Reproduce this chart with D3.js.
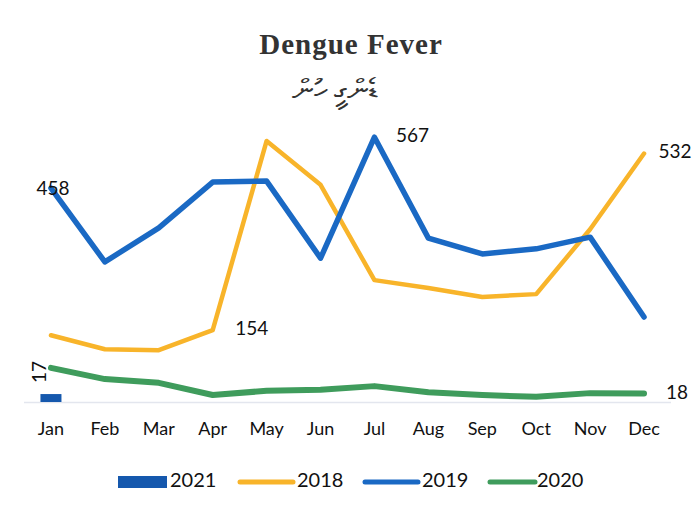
<!DOCTYPE html>
<html><head><meta charset="utf-8">
<script src="https://cdn.jsdelivr.net/npm/d3@7"></script>
<style>
html,body{margin:0;padding:0;background:#fff;}
text{font-family:Lato,"Open Sans",sans-serif;}
</style></head>
<body>
<svg id="c" width="700" height="517"></svg>
<script>
const months = ["Jan","Feb","Mar","Apr","May","Jun","Jul","Aug","Sep","Oct","Nov","Dec"];
const values2021 = [17];
const values2018 = [143,113,111,154,559,465,261,244,225,231,370,532];
const values2019 = [458,300,373,471,473,308,567,351,317,328,353,182];
const values2020 = [73,49,41,15,24,26,34,21,15,11,19,18];
const legendLabels = ["2021","2018","2019","2020"];
const titleText = "Dengue Fever";
const subtitleText = "ޑެންގީ ހުން";

const colors = {"2021":"#1558ad","2018":"#f8b42a","2019":"#1a69c4","2020":"#3f9c5c"};

const svg = d3.select("#c");
const x = d3.scaleBand().domain(months).range([24,671]);
const y = d3.scaleLinear().domain([0,600]).range([402,402-600*0.467]);
const cx = m => x(m) + x.bandwidth()/2;

svg.append("text").attr("x",351).attr("y",54).attr("text-anchor","middle")
  .style("font-family","'Liberation Serif',serif").style("font-weight","bold")
  .style("font-size","29px").style("letter-spacing","1px").attr("fill","#333").text(titleText);
svg.append("text").attr("x",335).attr("y",100).attr("text-anchor","middle")
  .style("font-size","30px").attr("fill","#333").text(subtitleText);

// baseline
svg.append("line").attr("x1",24).attr("x2",671).attr("y1",y(0)+0.5).attr("y2",y(0)+0.5)
  .attr("stroke","#e3e6ee").attr("stroke-width",1.5);

// x axis labels
const xAxis = d3.axisBottom(x).tickSize(0).tickPadding(14);
const gx = svg.append("g").attr("transform",`translate(0,${y(0)+6})`).call(xAxis);
gx.select(".domain").remove();
gx.selectAll("text").style("font-size","18px").style("font-family","Lato,sans-serif").attr("fill","#111");

// 2021 bar
const bw = 21;
svg.selectAll("rect.b21").data(values2021).join("rect").attr("class","b21")
  .attr("x",(d,i)=>cx(months[i])-bw/2).attr("width",bw)
  .attr("y",d=>y(d)).attr("height",d=>y(0)-y(d)).attr("fill",colors["2021"]);

const line = d3.line().x((d,i)=>cx(months[i])).y(d=>y(d));
const series = [["2018",values2018,4.5],["2019",values2019,5.5],["2020",values2020,6]];
series.forEach(([k,v,w])=>{
  svg.append("path").datum(v).attr("d",line).attr("fill","none")
    .attr("stroke",colors[k]).attr("stroke-width",w)
    .attr("stroke-linejoin","round").attr("stroke-linecap","round");
});

// data labels
const lbl = (tx,ty,t,rot)=>{
  const e = svg.append("text").attr("x",tx).attr("y",ty).attr("text-anchor","middle")
    .attr("dominant-baseline","middle").style("font-size","19px").attr("fill","#111").text(t);
  if(rot) e.attr("transform",`rotate(-90,${tx},${ty})`);
};
lbl(cx("Jan")+2, y(values2019[0])+2, values2019[0]);
lbl(cx("Jul")+38, y(values2019[6]), values2019[6]);
lbl(cx("Apr")+39, y(values2018[3]), values2018[3]);
lbl(cx("Dec")+31, y(values2018[11]), values2018[11]);
lbl(cx("Dec")+33, y(values2020[11])+1, values2020[11]);
lbl(cx("Jan")-10, y(values2020[0])+4, values2021[0], true);

// legend
const leg = [
  {k:"2021",sx:118,sw:49,tx:170,type:"rect"},
  {k:"2018",sx:240,sw:53,tx:297,type:"line"},
  {k:"2019",sx:365,sw:53,tx:422,type:"line"},
  {k:"2020",sx:490,sw:45,tx:537,type:"line"}
];
leg.forEach((l,i)=>{
  if(l.type==="rect"){
    svg.append("rect").attr("x",l.sx).attr("y",476).attr("width",l.sw).attr("height",12).attr("fill",colors[l.k]);
  } else {
    svg.append("line").attr("x1",l.sx).attr("x2",l.sx+l.sw).attr("y1",482).attr("y2",482)
      .attr("stroke",colors[l.k]).attr("stroke-width",5).attr("stroke-linecap","round");
  }
  svg.append("text").attr("x",l.tx).attr("y",482).attr("dominant-baseline","middle")
    .style("font-size","20px").attr("fill","#111").text(legendLabels[i]);
});
</script>
</body></html>
